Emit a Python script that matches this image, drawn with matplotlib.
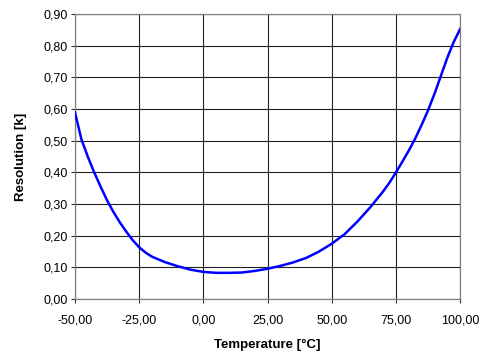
import matplotlib
matplotlib.use("Agg")
import matplotlib.pyplot as plt
import numpy as np

# values
temperature = [-50, -47.5, -45, -42.5, -40, -37.5, -35, -32.5, -30, -27.5, -25, -22.5, -20,
               -15, -10, -5, 0, 5, 10, 15, 20, 25, 30, 35, 40, 45, 50, 55, 60, 65, 70,
               72.5, 75, 77.5, 80, 82.5, 85, 87.5, 90, 92.5, 95, 97.5, 100]
resolution = [0.59, 0.505, 0.45, 0.40, 0.355, 0.312, 0.275, 0.242, 0.213, 0.186, 0.164,
              0.147, 0.134, 0.117, 0.104, 0.093, 0.086, 0.083, 0.083, 0.084, 0.089, 0.096,
              0.105, 0.116, 0.13, 0.15, 0.175, 0.205, 0.245, 0.29, 0.34, 0.368, 0.40,
              0.434, 0.469, 0.507, 0.55, 0.596, 0.648, 0.705, 0.762, 0.812, 0.853]

xticks = np.arange(-50, 101, 25)
yticks = np.arange(0, 0.91, 0.1)

plt.rcParams['font.family'] = ['Liberation Sans', 'DejaVu Sans']

fig = plt.figure(figsize=(4.9, 3.54), dpi=100)
ax = fig.add_axes([0.153, 0.155, 0.786, 0.805])

ax.plot(temperature, resolution, color='#0000ff', lw=1.8, zorder=3)

ax.set_xlim(-50, 100)
ax.set_ylim(0, 0.9)
ax.set_xticks(xticks)
ax.set_yticks(yticks)
ax.set_xticklabels([f"{v:.2f}".replace('.', ',') for v in xticks], fontsize=9)
ax.set_yticklabels([f"{v:.2f}".replace('.', ',') for v in yticks], fontsize=9)
ax.tick_params(axis='x', length=3, width=0.8, color='#333333', pad=8)
ax.tick_params(axis='y', length=3, width=0.8, color='#333333', pad=2)

ax.grid(True, color='#222222', lw=0.8)
ax.set_axisbelow(True)
for s in ax.spines.values():
    s.set_color('#808080')
    s.set_linewidth(0.9)

ax.set_xlabel("Temperature [°C]", fontsize=9.5, fontweight='bold', labelpad=9)
ax.set_ylabel("Resolution [k]", fontsize=9.5, fontweight='bold', labelpad=12)

fig.savefig("out.png", dpi=100)
